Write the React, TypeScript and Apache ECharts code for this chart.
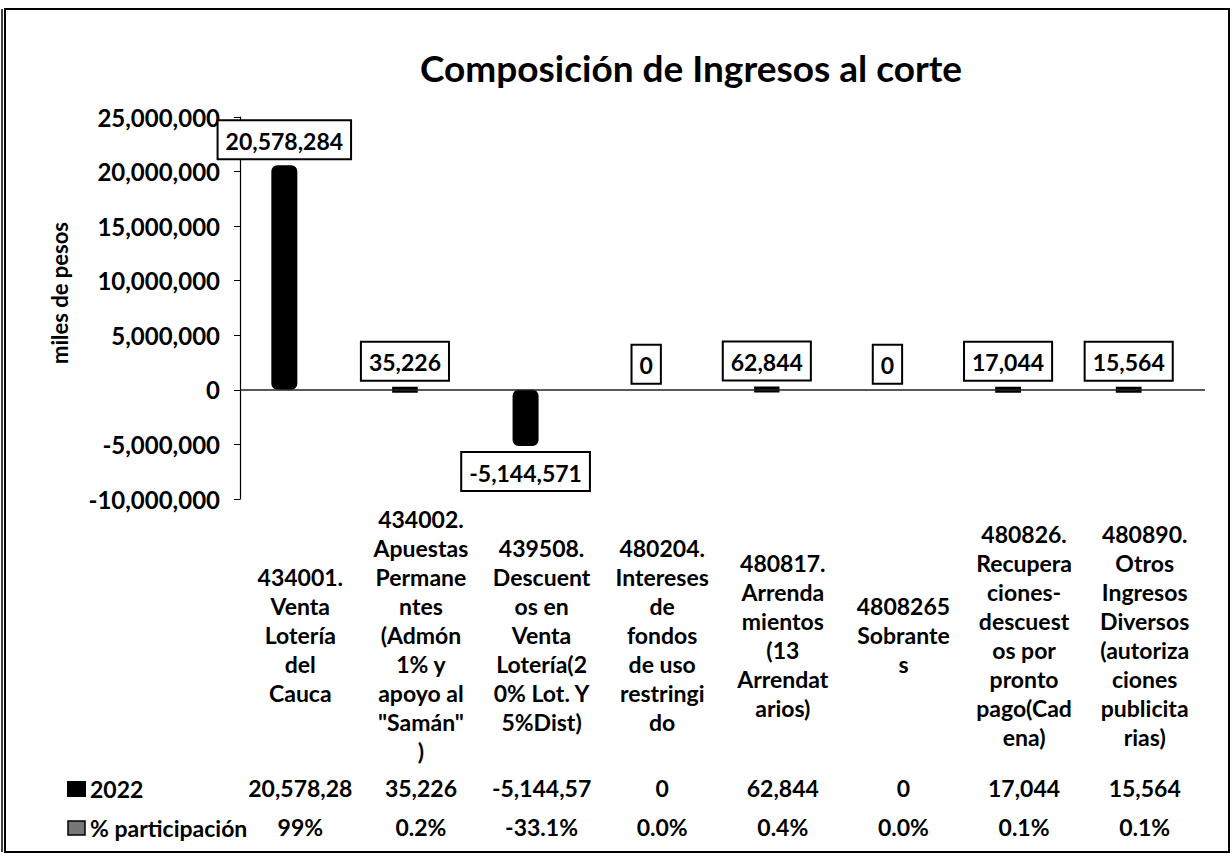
import React, { useEffect, useRef } from "react";
import * as echarts from "echarts";

const titleText = "Composición de Ingresos al corte";
const yAxisName = "miles de pesos";
const seriesNames = ["2022", "% participación"];

const categories = [
  "434001.\nVenta\nLotería\ndel\nCauca",
  "434002.\nApuestas\nPermane\nntes\n(Admón\n1% y\napoyo al\n\"Samán\"\n)",
  "439508.\nDescuent\nos en\nVenta\nLotería(2\n0% Lot. Y\n5%Dist)",
  "480204.\nIntereses\nde\nfondos\nde uso\nrestringi\ndo",
  "480817.\nArrenda\nmientos\n(13\nArrendat\narios)",
  "4808265\nSobrante\ns",
  "480826.\nRecupera\nciones-\ndescuest\nos por\npronto\npago(Cad\nena)",
  "480890.\nOtros\nIngresos\nDiversos\n(autoriza\nciones\npublicita\nrias)",
];

const values2022 = [20578284, 35226, -5144571, 0, 62844, 0, 17044, 15564];
const participacion = [99, 0.2, -33.1, 0.0, 0.4, 0.0, 0.1, 0.1];

const yMin = -10000000;
const yMax = 25000000;
const yInterval = 5000000;

const FONT = "Lato, 'Open Sans', sans-serif";

const fmt = (v: number) => v.toLocaleString("en-US");
const tableValue = (v: number) => {
  const s = fmt(v);
  return s.length > 9 ? s.slice(0, 9) : s;
};
const pctLabel = (v: number) =>
  Number.isInteger(v) && v !== 0 ? `${v}%` : `${v.toFixed(1)}%`;

export default function App() {
  const ref = useRef<HTMLDivElement>(null);

  useEffect(() => {
    if (!ref.current) return;
    const chart = echarts.init(ref.current, undefined, { renderer: "svg" });

    const baseLabel = {
      fontFamily: FONT,
      fontWeight: "bold",
      fontSize: 23,
      color: "#000",
    };

    const hiddenAxisBase = {
      type: "category",
      position: "bottom",
      axisLine: { show: false, onZero: false },
      axisTick: { show: false },
      splitLine: { show: false },
    };

    chart.setOption({
      animation: false,
      backgroundColor: "#fff",
      title: {
        text: titleText,
        left: 686,
        top: 44,
        textAlign: "center",
        textStyle: {
          fontFamily: FONT,
          fontWeight: "bold",
          fontSize: 37,
          color: "#000",
        },
      },
      legend: {
        orient: "vertical",
        left: 62,
        top: 770,
        itemWidth: 17,
        itemHeight: 14,
        itemGap: 11,
        icon: "rect",
        data: [
          { name: seriesNames[0], itemStyle: { color: "#000" } },
          {
            name: seriesNames[1],
            itemStyle: { color: "#777", borderColor: "#000", borderWidth: 1.5 },
          },
        ],
        textStyle: { ...baseLabel, lineHeight: 28 },
      },
      grid: { left: 240, right: 27, top: 117, bottom: 357 },
      xAxis: [
        {
          ...hiddenAxisBase,
          data: categories,
          axisLabel: {
            ...baseLabel,
            interval: 0,
            margin: 136,
            verticalAlign: "middle",
            lineHeight: 29,
          },
        },
        {
          ...hiddenAxisBase,
          data: values2022.map(tableValue),
          axisLabel: { ...baseLabel, interval: 0, margin: 289, verticalAlign: "middle" },
        },
        {
          ...hiddenAxisBase,
          data: participacion.map(pctLabel),
          axisLabel: { ...baseLabel, interval: 0, margin: 328, verticalAlign: "middle" },
        },
      ],
      yAxis: {
        type: "value",
        min: yMin,
        max: yMax,
        interval: yInterval,
        name: yAxisName,
        nameLocation: "middle",
        nameGap: 170,
        nameTextStyle: {
          fontFamily: FONT,
          fontWeight: "bold",
          fontSize: 22,
          color: "#000",
          padding: [0, 0, 0, 30],
        },
        axisLine: { show: true, lineStyle: { color: "#000", width: 1.2 } },
        axisTick: { show: true, inside: false, length: 6, lineStyle: { color: "#000" } },
        splitLine: { show: false },
        axisLabel: {
          ...baseLabel,
          fontSize: 24,
          margin: 20,
          formatter: (v: number) => fmt(v),
        },
      },
      series: [
        {
          name: seriesNames[0],
          type: "bar",
          xAxisIndex: 0,
          barWidth: 26,
          barGap: "23%",
          data: values2022.map((v) => ({
            value: v,
            itemStyle: v === 0 ? { borderWidth: 0 } : undefined,
            label: { position: v < 0 ? "bottom" : "top" },
          })),
          itemStyle: {
            color: "#000",
            borderColor: "#000",
            borderWidth: 6,
            borderRadius: 3,
          },
          label: {
            show: true,
            ...baseLabel,
            distance: 7,
            backgroundColor: "#fff",
            borderColor: "#000",
            borderWidth: 2,
            padding: [8, 7, 6, 7],
            formatter: (p: any) => fmt(p.value),
          },
          markLine: {
            silent: true,
            symbol: "none",
            label: { show: false },
            lineStyle: { color: "#222", width: 1.5, type: "solid" },
            data: [{ yAxis: 0 }],
          },
        },
        {
          name: seriesNames[1],
          type: "bar",
          xAxisIndex: 0,
          barWidth: 26,
          data: participacion.map((v) => v / 100),
          itemStyle: { color: "#777" },
        },
      ],
      graphic: [
        {
          type: "rect",
          shape: { x: 5, y: 9, width: 1224, height: 843 },
          style: { fill: "none", stroke: "#000", lineWidth: 2 },
          silent: true,
        },
        {
          type: "line",
          shape: { x1: 2, y1: 9, x2: 2, y2: 852 },
          style: { stroke: "#000", lineWidth: 1.5 },
          silent: true,
        },
      ],
    });

    return () => chart.dispose();
  }, []);

  return (
    <div
      ref={ref}
      style={{ position: "fixed", left: 0, top: 0, width: 1232, height: 856, background: "#fff" }}
    />
  );
}
